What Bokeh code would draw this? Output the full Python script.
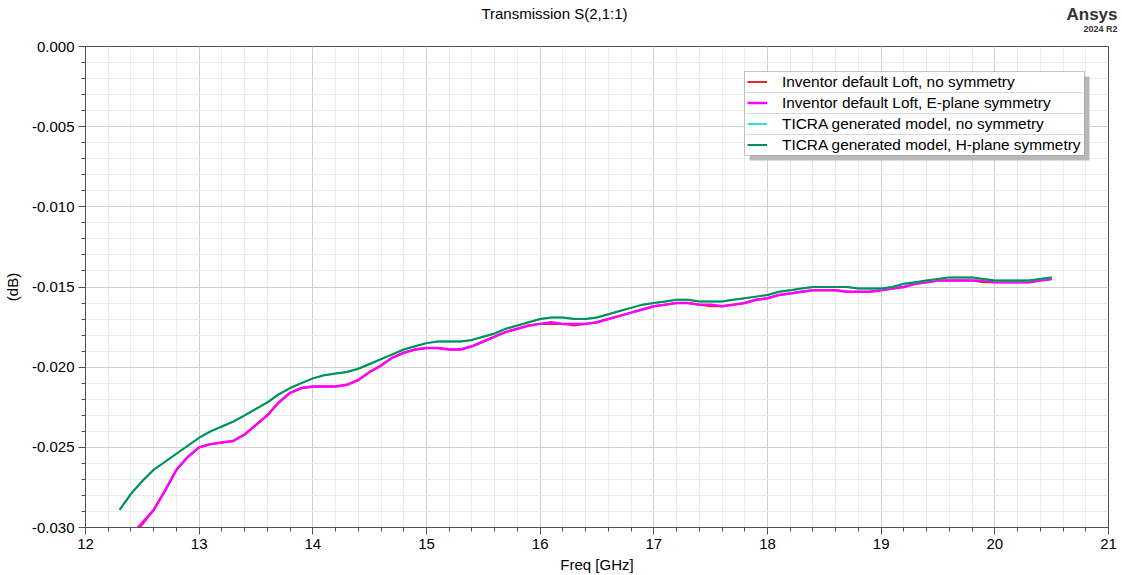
from bokeh.plotting import figure
from bokeh.models import (Range1d, SingleIntervalTicker, NumeralTickFormatter,
                          Legend, LegendItem, BoxAnnotation, Label)
from bokeh.embed import file_html
from bokeh.resources import INLINE

# Frequency samples (GHz)
freq = [12.3, 12.4, 12.5, 12.6, 12.7, 12.8, 12.9, 13.0, 13.1, 13.2, 13.3, 13.4,
        13.5, 13.6, 13.7, 13.8, 13.9, 14.0, 14.1, 14.2, 14.3, 14.4, 14.5, 14.6,
        14.7, 14.8, 14.9, 15.0, 15.1, 15.2, 15.3, 15.4, 15.5, 15.6, 15.7, 15.8,
        15.9, 16.0, 16.1, 16.2, 16.3, 16.4, 16.5, 16.6, 16.7, 16.8, 16.9, 17.0,
        17.1, 17.2, 17.3, 17.4, 17.5, 17.6, 17.7, 17.8, 17.9, 18.0, 18.1, 18.2,
        18.3, 18.4, 18.5, 18.6, 18.7, 18.8, 18.9, 19.0, 19.1, 19.2, 19.3, 19.4,
        19.5, 19.6, 19.7, 19.8, 19.9, 20.0, 20.1, 20.2, 20.3, 20.4, 20.5]

# S21 magnitude (dB) for each model
inventor_nosym = [-0.0314, -0.0306, -0.0298, -0.0289, -0.0277, -0.0264, -0.0256,
                  -0.0250, -0.0248, -0.0247, -0.0246, -0.0242, -0.0236, -0.0230,
                  -0.0222, -0.0216, -0.0213, -0.0212, -0.0212, -0.0212, -0.0211,
                  -0.0208, -0.0203, -0.0199, -0.0194, -0.0191, -0.0189, -0.0188,
                  -0.0188, -0.0189, -0.0189, -0.0187, -0.0184, -0.0181, -0.0178,
                  -0.0176, -0.0174, -0.0173, -0.0173, -0.0173, -0.0174, -0.0173,
                  -0.0172, -0.0170, -0.0168, -0.0166, -0.0164, -0.0162, -0.0161,
                  -0.0160, -0.0160, -0.0161, -0.0162, -0.0162, -0.0161, -0.0160,
                  -0.0158, -0.0157, -0.0155, -0.0154, -0.0153, -0.0152, -0.0152,
                  -0.0152, -0.0153, -0.0153, -0.0153, -0.0152, -0.0151, -0.0150,
                  -0.0148, -0.0147, -0.0146, -0.0146, -0.0146, -0.0146, -0.0147,
                  -0.0147, -0.0147, -0.0147, -0.0147, -0.0146, -0.0145]

inventor_esym = [-0.0313, -0.0305, -0.0297, -0.0289, -0.0277, -0.0264, -0.0256,
                 -0.0250, -0.0248, -0.0247, -0.0246, -0.0242, -0.0236, -0.0230,
                 -0.0222, -0.0216, -0.0213, -0.0212, -0.0212, -0.0212, -0.0211,
                 -0.0208, -0.0203, -0.0199, -0.0194, -0.0191, -0.0189, -0.0188,
                 -0.0188, -0.0189, -0.0189, -0.0187, -0.0184, -0.0181, -0.0178,
                 -0.0176, -0.0174, -0.0173, -0.0172, -0.0173, -0.0173, -0.0173,
                 -0.0172, -0.0170, -0.0168, -0.0166, -0.0164, -0.0162, -0.0161,
                 -0.0160, -0.0160, -0.0161, -0.0161, -0.0162, -0.0161, -0.0160,
                 -0.0158, -0.0157, -0.0155, -0.0154, -0.0153, -0.0152, -0.0152,
                 -0.0152, -0.0153, -0.0153, -0.0153, -0.0152, -0.0151, -0.0150,
                 -0.0148, -0.0147, -0.0146, -0.0146, -0.0146, -0.0146, -0.0146,
                 -0.0147, -0.0147, -0.0147, -0.0147, -0.0146, -0.0145]

ticra_nosym = [-0.0289, -0.0279, -0.0271, -0.0264, -0.0259, -0.0254, -0.0249,
               -0.0244, -0.0240, -0.0237, -0.0234, -0.0230, -0.0226, -0.0222,
               -0.0217, -0.0213, -0.0210, -0.0207, -0.0205, -0.0204, -0.0203,
               -0.0201, -0.0198, -0.0195, -0.0192, -0.0189, -0.0187, -0.0185,
               -0.0184, -0.0184, -0.0184, -0.0183, -0.0181, -0.0179, -0.0176,
               -0.0174, -0.0172, -0.0170, -0.0169, -0.0169, -0.0170, -0.0170,
               -0.0169, -0.0167, -0.0165, -0.0163, -0.0161, -0.0160, -0.0159,
               -0.0158, -0.0158, -0.0159, -0.0159, -0.0159, -0.0158, -0.0157,
               -0.0156, -0.0155, -0.0153, -0.0152, -0.0151, -0.0150, -0.0150,
               -0.0150, -0.0150, -0.0151, -0.0151, -0.0151, -0.0150, -0.0148,
               -0.0147, -0.0146, -0.0145, -0.0144, -0.0144, -0.0144, -0.0145,
               -0.0146, -0.0146, -0.0146, -0.0146, -0.0145, -0.0144]

ticra_hsym = [-0.0289, -0.0279, -0.0271, -0.0264, -0.0259, -0.0254, -0.0249,
              -0.0244, -0.0240, -0.0237, -0.0234, -0.0230, -0.0226, -0.0222,
              -0.0217, -0.0213, -0.0210, -0.0207, -0.0205, -0.0204, -0.0203,
              -0.0201, -0.0198, -0.0195, -0.0192, -0.0189, -0.0187, -0.0185,
              -0.0184, -0.0184, -0.0184, -0.0183, -0.0181, -0.0179, -0.0176,
              -0.0174, -0.0172, -0.0170, -0.0169, -0.0169, -0.0170, -0.0170,
              -0.0169, -0.0167, -0.0165, -0.0163, -0.0161, -0.0160, -0.0159,
              -0.0158, -0.0158, -0.0159, -0.0159, -0.0159, -0.0158, -0.0157,
              -0.0156, -0.0155, -0.0153, -0.0152, -0.0151, -0.0150, -0.0150,
              -0.0150, -0.0150, -0.0151, -0.0151, -0.0151, -0.0150, -0.0148,
              -0.0147, -0.0146, -0.0145, -0.0144, -0.0144, -0.0144, -0.0145,
              -0.0146, -0.0146, -0.0146, -0.0146, -0.0145, -0.0144]

series_names = ["Inventor default Loft, no symmetry",
                "Inventor default Loft, E-plane symmetry",
                "TICRA generated model, no symmetry",
                "TICRA generated model, H-plane symmetry"]
series_colors = ["#e02828", "#ff00ff", "#30e0e0", "#00904f"]
series_widths = [2, 2.5, 2, 2]

FONT = "Liberation Sans"
W, H = 1122, 575

p = figure(width=W, height=H, output_backend="svg", toolbar_location=None,
           x_range=Range1d(12, 21), y_range=Range1d(-0.030, 0.0),
           min_border_left=84, min_border_right=14, min_border_top=42,
           min_border_bottom=48, background_fill_color="white",
           border_fill_color="white")

p.outline_line_color = "#505050"
p.outline_line_width = 1

# Axes and grid
p.xaxis.ticker = SingleIntervalTicker(interval=1, num_minor_ticks=5)
p.yaxis.ticker = SingleIntervalTicker(interval=0.005, num_minor_ticks=5)
p.xgrid.ticker = p.xaxis.ticker
p.ygrid.ticker = p.yaxis.ticker
p.yaxis.formatter = NumeralTickFormatter(format="0.000")

for ax in (p.xaxis, p.yaxis):
    ax.axis_line_color = "#505050"
    ax.major_tick_line_color = "#505050"
    ax.minor_tick_line_color = "#505050"
    ax.major_tick_out = 7
    ax.major_tick_in = 0
    ax.minor_tick_out = 4
    ax.minor_tick_in = 0
    ax.major_label_text_font = FONT
    ax.major_label_text_font_size = "15px"
    ax.major_label_text_color = "black"
    ax.axis_label_text_font = FONT
    ax.axis_label_text_font_size = "15px"
    ax.axis_label_text_font_style = "normal"
    ax.axis_label_text_color = "black"

p.xaxis.axis_label = "Freq [GHz]"
p.yaxis.axis_label = "(dB)"
p.xaxis.major_label_standoff = 4
p.yaxis.major_label_standoff = 4
p.xaxis.axis_label_standoff = 4
p.yaxis.axis_label_standoff = 8

for g in (p.xgrid, p.ygrid):
    g.grid_line_color = "#d0d0d0"
    g.grid_line_width = 1
    g.minor_grid_line_color = "#ebebeb"
    g.minor_grid_line_width = 1

# Curves
all_series = [inventor_nosym, inventor_esym, ticra_nosym, ticra_hsym]
items = []
for name, vals, col, w in zip(series_names, all_series, series_colors, series_widths):
    r = p.line(freq, vals, line_color=col, line_width=w)
    items.append(LegendItem(label=name, renderers=[r]))

# Legend box: drop shadow, white panel with border, row separators
def screen_box(left, right, bottom, top, **kw):
    return BoxAnnotation(left=left, right=right, bottom=bottom, top=top,
                         left_units="screen", right_units="screen",
                         top_units="screen", bottom_units="screen",
                         level="annotation", **kw)

p.add_layout(screen_box(664, 1004, 367, 451, fill_color="#b8b8b8",
                        fill_alpha=1.0, line_color=None))
p.add_layout(screen_box(659, 999, 372, 456, fill_color="white", fill_alpha=1.0,
                        line_color="#404040", line_width=1))
for yk in (435, 414, 393):
    p.add_layout(screen_box(660, 998, yk - 0.5, yk + 0.5, fill_color="#d8d8d8",
                            fill_alpha=1.0, line_color=None))

legend = Legend(items=items, location=(662, 372), orientation="vertical",
                border_line_color=None, background_fill_alpha=0.0,
                label_text_font=FONT, label_text_font_size="15.4px",
                label_text_color="black", glyph_width=20, glyph_height=21,
                label_height=21, label_standoff=15, padding=0, spacing=0,
                margin=0)
p.add_layout(legend)

# Title and brand mark in the top margin (canvas units, from the top-left)
header = dict(x_units="canvas", y_units="canvas", text_baseline="middle",
              text_font=FONT, text_line_height=0.1)
p.add_layout(Label(x=554, y=13, text="Transmission S(2,1:1)", text_align="center",
                   text_font_size="15px", text_color="black", **header), "above")
p.add_layout(Label(x=1117, y=14, text="Ansys", text_align="right",
                   text_font_size="17px", text_font_style="bold",
                   text_color="#333333", **header), "above")
p.add_layout(Label(x=1117, y=28, text="2024 R2", text_align="right",
                   text_font_size="9px", text_font_style="bold",
                   text_color="#333333", **header), "above")

open("out.html", "w").write(file_html(p, INLINE))
